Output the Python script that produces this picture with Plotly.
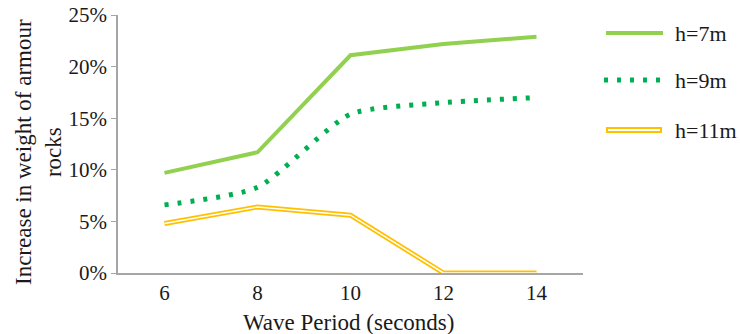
import plotly.graph_objects as go

periods = ["6", "8", "10", "12", "14"]
h7 = [0.097, 0.117, 0.211, 0.222, 0.229]
h9 = [0.066, 0.083, 0.154, 0.165, 0.170]
h11 = [0.048, 0.064, 0.056, 0.0, 0.0]
series_names = ["h=7m", "h=9m", "h=11m"]
x_title = "Wave Period (seconds)"
y_title = "Increase in weight of armour<br>rocks"

C7 = "#92D050"
C9 = "#00B050"
C11 = "#FFC000"
FONT = "Liberation Serif"
TXT = "#1a1a1a"

fig = go.Figure()
fig.add_trace(go.Scatter(x=periods, y=h7, mode="lines", line=dict(color=C7, width=4),
                         showlegend=False, hoverinfo="skip"))
fig.add_trace(go.Scatter(x=periods, y=h9, mode="lines",
                         line=dict(color=C9, width=5, dash="4px,9px", shape="spline", smoothing=0.6),
                         showlegend=False, hoverinfo="skip"))
fig.add_trace(go.Scatter(x=periods, y=h11, mode="lines", line=dict(color=C11, width=5),
                         showlegend=False, hoverinfo="skip"))
fig.add_trace(go.Scatter(x=periods, y=h11, mode="lines", line=dict(color="white", width=1.5),
                         showlegend=False, hoverinfo="skip"))

# custom legend
W = 465.0
H = 258.0
def px(x):
    return (x - 118) / W
def py(y):
    return (273 - y) / H

leg_y = [33, 80, 130]
fig.add_shape(type="line", xref="paper", yref="paper", x0=px(606), x1=px(663), y0=py(leg_y[0]), y1=py(leg_y[0]),
              line=dict(color=C7, width=4))
fig.add_shape(type="line", xref="paper", yref="paper", x0=px(604), x1=px(663), y0=py(leg_y[1]), y1=py(leg_y[1]),
              line=dict(color=C9, width=5, dash="4px,9px"))
fig.add_shape(type="line", xref="paper", yref="paper", x0=px(606), x1=px(662), y0=py(leg_y[2]), y1=py(leg_y[2]),
              line=dict(color=C11, width=6))
fig.add_shape(type="line", xref="paper", yref="paper", x0=px(608), x1=px(660), y0=py(leg_y[2]), y1=py(leg_y[2]),
              line=dict(color="white", width=2))
for name, yy in zip(series_names, leg_y):
    fig.add_annotation(x=px(673), y=py(yy), xref="paper", yref="paper", text=name, showarrow=False,
                       xanchor="left", yanchor="middle", font=dict(family=FONT, size=22, color=TXT))

# axis titles
fig.add_annotation(x=px(348), y=py(322), xref="paper", yref="paper", text=x_title, showarrow=False,
                   xanchor="center", yanchor="middle", font=dict(family=FONT, size=23, color=TXT))
fig.add_annotation(x=px(38), y=py(152), xref="paper", yref="paper", text=y_title, showarrow=False,
                   textangle=-90, xanchor="center", yanchor="middle",
                   font=dict(family=FONT, size=23, color=TXT))

fig.update_layout(
    width=740, height=334,
    margin=dict(l=118, r=157, t=15, b=61, autoexpand=False),
    paper_bgcolor="white", plot_bgcolor="white",
    font=dict(family=FONT, size=21, color=TXT),
    xaxis=dict(type="category", range=[-0.5, 4.5], showgrid=False, showline=True, automargin=False,
               linecolor="#a6a6a6", linewidth=1.5, ticks="", zeroline=False,
               tickfont=dict(family=FONT, size=21)),
    yaxis=dict(range=[0, 0.25], dtick=0.05, tickformat=".0%", showgrid=False, showline=True, automargin=False,
               linecolor="#a6a6a6", linewidth=1.5, ticks="outside", ticklen=5, tickcolor="#a6a6a6",
               zeroline=False, tickfont=dict(family=FONT, size=21)),
)

fig.write_html("out.html")
